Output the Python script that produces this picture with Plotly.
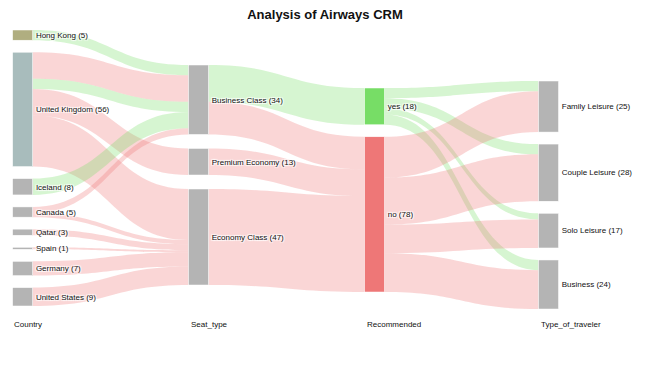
import plotly.graph_objects as go

# ---------------- data ----------------
countries = ["Hong Kong", "United Kingdom", "Iceland", "Canada", "Qatar", "Spain", "Germany", "United States"]
country_counts = [5, 56, 8, 5, 3, 1, 7, 9]
seats = ["Business Class", "Premium Economy", "Economy Class"]
seat_counts = [34, 13, 47]
recs = ["yes", "no"]
rec_counts = [18, 78]
travelers = ["Family Leisure", "Couple Leisure", "Solo Leisure", "Business"]
traveler_counts = [25, 28, 17, 24]
column_titles = ["Country", "Seat_type", "Recommended", "Type_of_traveler"]

# flows: (source, target, value, recommended)
country_seat = [
    ("Hong Kong", "Business Class", 5, "yes"),
    ("United Kingdom", "Business Class", 13, "no"),
    ("United Kingdom", "Business Class", 5, "yes"),
    ("United Kingdom", "Premium Economy", 13, "no"),
    ("United Kingdom", "Economy Class", 25, "no"),
    ("Iceland", "Business Class", 8, "yes"),
    ("Canada", "Business Class", 3, "no"),
    ("Canada", "Economy Class", 2, "no"),
    ("Qatar", "Economy Class", 3, "no"),
    ("Spain", "Economy Class", 1, "no"),
    ("Germany", "Economy Class", 7, "no"),
    ("United States", "Economy Class", 9, "no"),
]
seat_rec = [
    ("Business Class", "yes", 18, "yes"),
    ("Business Class", "no", 16, "no"),
    ("Premium Economy", "no", 13, "no"),
    ("Economy Class", "no", 47, "no"),
]
rec_traveler = [
    ("yes", "Family Leisure", 5, "yes"),
    ("yes", "Couple Leisure", 5, "yes"),
    ("yes", "Solo Leisure", 3, "yes"),
    ("yes", "Business", 5, "yes"),
    ("no", "Family Leisure", 20, "no"),
    ("no", "Couple Leisure", 23, "no"),
    ("no", "Solo Leisure", 14, "no"),
    ("no", "Business", 19, "no"),
]

# ---------------- styling / layout ----------------
OFF = 8                                  # browser body margin
W, H = 650 - OFF, 366 - OFF              # figure size (px)
def fx(px):                              # page px -> paper fraction (x)
    return (px - OFF) / W
def fy(py):                              # page px -> paper fraction (y)
    return 1 - (py - OFF) / H

DOM_TOP, DOM_BOTTOM = 30, 306            # page px
COL_CENTRES = [22, 198.5, 374.5, 548.5]  # page px, node centres
SPACER_X = 648                           # hidden column so every label sits on the right
THICK = 20
PAD = 12
dom_h = DOM_BOTTOM - DOM_TOP
dom_w = SPACER_X - COL_CENTRES[0]
col_tops = [0, 35, 58, 51]               # px offset of first node in each column
col_gaps = [12, 14, 12, 12]

link_col = {"yes": "rgba(119,221,102,0.30)", "no": "rgba(238,119,119,0.30)"}
country_colors = ["#b0ae80", "#a8bcbc"] + ["#b4b4b4"] * 6
seat_colors = ["#b4b4b4"] * 3
rec_colors = ["#77dd66", "#ee7777"]
trav_colors = ["#b4b4b4"] * 4
font_family = "Liberation Sans, Arial"

columns = [countries, seats, recs, travelers]
counts = [country_counts, seat_counts, rec_counts, traveler_counts]
names = [n for col in columns for n in col]
idx = {n: i for i, n in enumerate(names)}
labels = [f"{n} ({c})" for col, cc in zip(columns, counts) for n, c in zip(col, cc)]
colors = country_colors + seat_colors + rec_colors + trav_colors

links = country_seat + seat_rec + rec_traveler
src = [idx[s] for s, t, v, r in links]
tgt = [idx[t] for s, t, v, r in links]
val = [v for s, t, v, r in links]
lcol = [link_col[r] for s, t, v, r in links]

# node flow values (max of in/out) -> stacked positions
flow_in = [0] * len(names)
flow_out = [0] * len(names)
for s, t, v in zip(src, tgt, val):
    flow_out[s] += v
    flow_in[t] += v
node_val = [max(a, b) for a, b in zip(flow_in, flow_out)]
ky = min((dom_h - (len(col) - 1) * PAD) / sum(node_val[idx[n]] for n in col) for col in columns)

node_x, node_y = [], []
for ci, col in enumerate(columns):
    y = col_tops[ci]
    for n in col:
        h = node_val[idx[n]] * ky
        node_x.append(max((COL_CENTRES[ci] - COL_CENTRES[0]) / dom_w, 0.001))
        node_y.append((y + h / 2) / dom_h)
        y += h + col_gaps[ci]

# invisible spacer column (keeps last-column labels on the right side)
spacer = len(names)
labels.append("")
colors.append("#ffffff")
node_x.append(1.0)
node_y.append(0.5)
for n in travelers:
    src.append(idx[n])
    tgt.append(spacer)
    val.append(flow_in[idx[n]])
    lcol.append("rgba(255,255,255,0)")

fig = go.Figure(go.Sankey(
    arrangement="fixed",
    domain=dict(x=[fx(COL_CENTRES[0]), fx(SPACER_X)], y=[fy(DOM_BOTTOM), fy(DOM_TOP)]),
    node=dict(label=labels, color=colors, x=node_x, y=node_y, pad=PAD, thickness=THICK,
              line=dict(color="#ffffff", width=0.5)),
    link=dict(source=src, target=tgt, value=val, color=lcol),
    textfont=dict(family=font_family, size=8, color="#111"),
))

col_x = [12, 189, 365, 539]
for t, x in zip(column_titles, col_x):
    fig.add_annotation(text=t, x=fx(x), y=fy(324), xref="paper", yref="paper",
                       xanchor="left", yanchor="middle", showarrow=False,
                       font=dict(family=font_family, size=8, color="#111"))

fig.update_layout(
    width=W, height=H,
    margin=dict(l=0, r=0, t=0, b=0),
    paper_bgcolor="white",
    title=dict(text="<b>Analysis of Airways CRM</b>", x=fx(325), xanchor="center",
               y=fy(14), yanchor="middle",
               font=dict(family=font_family, size=13, color="#111")),
)
fig.write_html("out.html")
